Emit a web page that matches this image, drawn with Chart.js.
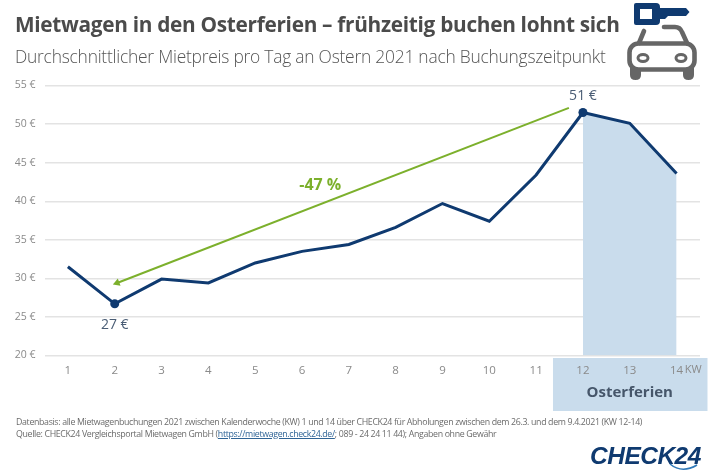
<!DOCTYPE html>
<html lang="de">
<head>
<meta charset="utf-8">
<title>Mietwagen in den Osterferien</title>
<script src="https://cdn.jsdelivr.net/npm/chart.js@4"></script>
<style>
    html, body { margin: 0; padding: 0; background: #fff; }
    #page { position: relative; width: 710px; height: 475px; overflow: hidden; font-family: "Open Sans", sans-serif; }
    #chart { position: absolute; left: 0; top: 0; }
    .abs { position: absolute; white-space: nowrap; }
    #title { left: 15px; top: 9px; font-size: 20.8px; font-weight: 700; color: #4b4b4b; line-height: 30px; letter-spacing: -0.3px; }
    #subtitle { left: 15px; top: 43px; font-size: 17.4px; font-weight: 300; color: #555; line-height: 26px; letter-spacing: -0.23px; }
    #note { left: 16px; top: 417px; font-size: 8.8px; color: #6b6b6b; line-height: 11.7px; letter-spacing: -0.34px; }
    #note a { color: #2f6496; }
    #logo { left: 590px; top: 441px; font-family: "Liberation Sans", sans-serif; font-size: 24.5px; font-weight: 700; font-style: italic; color: #0f3a70; letter-spacing: -0.5px; line-height: 30px; }
</style>
</head>
<body>
<div id="page">
    <canvas id="chart" width="710" height="475"></canvas>
    <div class="abs" id="title">Mietwagen in den Osterferien – frühzeitig buchen lohnt sich</div>
    <div class="abs" id="subtitle">Durchschnittlicher Mietpreis pro Tag an Ostern 2021 nach Buchungszeitpunkt</div>
    <div class="abs" id="note">Datenbasis: alle Mietwagenbuchungen 2021 zwischen Kalenderwoche (KW) 1 und 14 über CHECK24 für Abholungen zwischen dem 26.3. und dem 9.4.2021 (KW 12-14)<br>Quelle: CHECK24 Vergleichsportal Mietwagen GmbH (<a href="https://mietwagen.check24.de/">https://mietwagen.check24.de/</a>; 089 - 24 24 11 44); Angaben ohne Gewähr</div>
    <div class="abs" id="logo">CHECK24</div>
    <!-- key and car icon -->
    <svg class="abs" style="left:620px;top:0" width="85" height="85" viewBox="0 0 85 85">
        <path d="M16 3 H36 Q40 3 40 7 V8 H66 L69.5 12 L66 16 H48 L45 19 H40 V21 Q40 25 36 25 H16 Q14 25 14 23 V5 Q14 3 16 3 Z M20 9 V19 H32 V9 Z" fill="#0f3a70" fill-rule="evenodd"/>
        <g fill="none" stroke="#666" stroke-width="4.6" stroke-linejoin="round" stroke-linecap="round">
            <path d="M24 31 L19 43"/>
            <path d="M44 27 H55 Q60 27 62 32 L67 43"/>
            <rect x="9.5" y="43.5" width="65" height="26" rx="9"/>
        </g>
        <path d="M10 68 H21 V75 Q21 80 15.5 80 Q10 80 10 75 Z M63 68 H74 V75 Q74 80 68.5 80 Q63 80 63 75 Z" fill="#666"/>
        <ellipse cx="23" cy="58" rx="5" ry="3.4" fill="none" stroke="#666" stroke-width="3"/>
        <ellipse cx="61" cy="58" rx="5" ry="3.4" fill="none" stroke="#666" stroke-width="3"/>
    </svg>
    <!-- smile under the 24 of the logo -->
    <svg class="abs" style="left:668px;top:462px" width="32" height="12" viewBox="0 0 32 12">
        <path d="M2 2 Q14 12 29 3" fill="none" stroke="#2f79b9" stroke-width="1.6"/>
    </svg>
</div>
<script>
    const weeks = [1, 2, 3, 4, 5, 6, 7, 8, 9, 10, 11, 12, 13, 14];
    const prices = [31.5, 26.7, 29.9, 29.4, 32.0, 33.5, 34.4, 36.6, 39.7, 37.4, 43.4, 51.5, 50.1, 43.6];
    const holidayWeeks = [12, 13, 14];
    const holidayPrices = [51.5, 50.1, 43.6];
    const arrowWeeks = [2.05, 11.7];
    const arrowPrices = [29.4, 52.1];
    const markedWeeks = [2, 12];
    const yTicks = [20, 25, 30, 35, 40, 45, 50, 55];

    const navy = '#0f3a70';
    const green = '#7cb02c';
    const holidayBlue = '#c9dcec';

    function toPoints(xs, ys) {
        return xs.map(function(x, i) { return { x: x, y: ys[i] }; });
    }

    // Labels and the holiday box below the axis follow the scales
    const extras = {
        id: 'extras',
        beforeDraw: function(chart) {
            const c = chart.ctx;
            const x = chart.scales.x;
            c.save();
            c.fillStyle = holidayBlue;
            c.fillRect(x.getPixelForValue(11.36), chart.chartArea.bottom + 2.5, x.getPixelForValue(14.66) - x.getPixelForValue(11.36), 53);
            c.restore();
        },
        afterDraw: function(chart) {
            const c = chart.ctx;
            const x = chart.scales.x;
            const y = chart.scales.y;
            const bottom = chart.chartArea.bottom;
            c.save();
            c.textAlign = 'center';
            c.textBaseline = 'middle';

            c.font = '400 14px "Open Sans"';
            c.fillStyle = '#4a5d75';
            c.fillText('51 €', x.getPixelForValue(12), y.getPixelForValue(53.6));
            c.fillText('27 €', x.getPixelForValue(2), y.getPixelForValue(24));

            c.font = '700 16px "Open Sans"';
            c.fillStyle = green;
            c.fillText('-47 %', x.getPixelForValue(6.39), y.getPixelForValue(42.0));

            c.font = '700 15px "Open Sans"';
            c.fillStyle = '#46566a';
            c.fillText('Osterferien', x.getPixelForValue(13), bottom + 37);

            c.font = '400 11px "Open Sans"';
            c.fillStyle = '#8a8a8a';
            c.fillText('KW', x.getPixelForValue(14) + 16.5, bottom + 14);
            c.restore();
        }
    };

    new Chart(document.getElementById('chart'), {
        type: 'line',
        data: {
            datasets: [
                {
                    label: 'Preis',
                    data: toPoints(weeks, prices),
                    borderColor: navy,
                    borderWidth: 3,
                    tension: 0,
                    pointBackgroundColor: navy,
                    pointBorderWidth: 0,
                    pointRadius: function(ctx) {
                        return markedWeeks.includes(weeks[ctx.dataIndex]) ? 4.5 : 0;
                    },
                    order: 1
                },
                {
                    label: 'Osterferien',
                    data: toPoints(holidayWeeks, holidayPrices),
                    borderWidth: 0,
                    pointRadius: 0,
                    backgroundColor: holidayBlue,
                    fill: 'start',
                    order: 3
                },
                {
                    label: 'Ersparnis',
                    data: toPoints(arrowWeeks, arrowPrices),
                    borderColor: green,
                    borderWidth: 2,
                    backgroundColor: green,
                    pointStyle: 'triangle',
                    pointBorderWidth: 0,
                    pointRotation: 249,
                    pointBackgroundColor: green,
                    pointRadius: function(ctx) { return ctx.dataIndex === 0 ? 4.5 : 0; },
                    order: 2
                }
            ]
        },
        plugins: [extras],
        options: {
            responsive: false,
            animation: false,
            events: [],
            layout: { padding: { left: 15, right: 10, top: 85.5, bottom: 94.5 } },
            plugins: {
                legend: { display: false },
                tooltip: { enabled: false }
            },
            scales: {
                x: {
                    type: 'linear',
                    min: 0.5,
                    max: 14.5,
                    afterFit: function(scale) { scale.height = 25; },
                    afterBuildTicks: function(scale) {
                        scale.ticks = weeks.map(function(w) { return { value: w }; });
                    },
                    grid: { display: false },
                    border: { display: false },
                    ticks: {
                        autoSkip: false,
                        maxRotation: 0,
                        color: '#8a8a8a',
                        padding: 0,
                        font: { family: '"Open Sans"', size: 11.5 },
                        callback: function(value) { return String(value); }
                    }
                },
                y: {
                    min: 20,
                    max: 55,
                    afterFit: function(scale) { scale.width = 29.5; },
                    afterBuildTicks: function(scale) {
                        scale.ticks = yTicks.map(function(v) { return { value: v }; });
                    },
                    grid: { color: '#e3e3e3', lineWidth: 1.4, drawTicks: false },
                    border: { display: false },
                    ticks: {
                        color: '#8a8a8a',
                        padding: 9,
                        font: { family: '"Open Sans"', size: 10.5 },
                        callback: function(value) { return value + ' €'; }
                    }
                }
            }
        }
    });
</script>
</body>
</html>
